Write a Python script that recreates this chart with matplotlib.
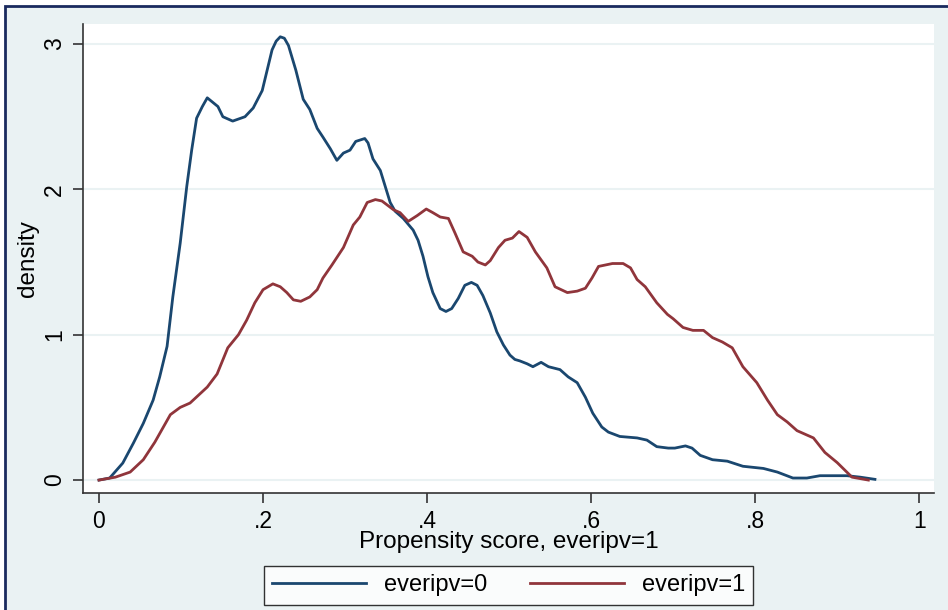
import numpy as np
import matplotlib
matplotlib.use('Agg')
import matplotlib.pyplot as plt
from matplotlib.patches import Rectangle

plt.rcParams['font.family'] = ['Liberation Sans', 'DejaVu Sans']

# everipv=0 density curve
x0 = [0.0, 0.013, 0.029, 0.042, 0.054, 0.066, 0.074, 0.083, 0.090, 0.099, 0.107, 0.113,
      0.119, 0.126, 0.132, 0.145, 0.151, 0.163, 0.178, 0.188, 0.199, 0.211, 0.216, 0.221,
      0.226, 0.231, 0.240, 0.249, 0.257, 0.266, 0.273, 0.282, 0.290, 0.298, 0.306, 0.313,
      0.324, 0.328, 0.334, 0.343, 0.349, 0.355, 0.361, 0.371, 0.383, 0.389, 0.395, 0.401,
      0.407, 0.416, 0.423, 0.430, 0.438, 0.446, 0.454, 0.461, 0.468, 0.477, 0.485, 0.493,
      0.501, 0.507, 0.513, 0.522, 0.529, 0.539, 0.548, 0.562, 0.572, 0.583, 0.593, 0.602,
      0.613, 0.621, 0.635, 0.656, 0.668, 0.680, 0.694, 0.702, 0.715, 0.723, 0.733, 0.748,
      0.766, 0.785, 0.810, 0.827, 0.846, 0.863, 0.879, 0.912, 0.928, 0.946]
y0 = [0.0, 0.014, 0.117, 0.255, 0.39, 0.55, 0.71, 0.92, 1.26, 1.63, 2.02, 2.27,
      2.49, 2.57, 2.63, 2.57, 2.50, 2.47, 2.50, 2.56, 2.68, 2.96, 3.02, 3.05,
      3.04, 2.99, 2.82, 2.62, 2.55, 2.42, 2.36, 2.28, 2.20, 2.25, 2.27, 2.33,
      2.35, 2.32, 2.21, 2.13, 2.02, 1.91, 1.85, 1.80, 1.72, 1.65, 1.54, 1.40,
      1.29, 1.18, 1.16, 1.18, 1.25, 1.34, 1.36, 1.34, 1.27, 1.15, 1.02, 0.93,
      0.86, 0.83, 0.82, 0.80, 0.78, 0.81, 0.78, 0.76, 0.71, 0.67, 0.57, 0.46,
      0.365, 0.33, 0.30, 0.29, 0.275, 0.23, 0.22, 0.22, 0.235, 0.22, 0.17, 0.14,
      0.13, 0.095, 0.08, 0.055, 0.014, 0.014, 0.03, 0.03, 0.02, 0.005]

# everipv=1 density curve
x1 = [0.0, 0.020, 0.038, 0.054, 0.068, 0.087, 0.099, 0.111, 0.132, 0.144, 0.157, 0.170,
      0.180, 0.190, 0.200, 0.212, 0.221, 0.229, 0.237, 0.246, 0.257, 0.266, 0.273, 0.284,
      0.298, 0.310, 0.318, 0.327, 0.337, 0.345, 0.359, 0.367, 0.377, 0.388, 0.399, 0.407,
      0.416, 0.426, 0.434, 0.444, 0.455, 0.462, 0.471, 0.477, 0.487, 0.495, 0.504, 0.512,
      0.522, 0.532, 0.546, 0.556, 0.571, 0.583, 0.593, 0.601, 0.609, 0.626, 0.639, 0.648,
      0.656, 0.666, 0.680, 0.693, 0.700, 0.712, 0.724, 0.737, 0.748, 0.760, 0.772, 0.785,
      0.802, 0.815, 0.827, 0.839, 0.851, 0.871, 0.885, 0.900, 0.918, 0.938]
y1 = [0.0, 0.02, 0.055, 0.14, 0.26, 0.45, 0.50, 0.53, 0.64, 0.73, 0.91, 1.00,
      1.10, 1.22, 1.31, 1.35, 1.33, 1.29, 1.24, 1.23, 1.26, 1.31, 1.39, 1.48,
      1.60, 1.755, 1.81, 1.91, 1.93, 1.92, 1.86, 1.84, 1.78, 1.82, 1.865, 1.84,
      1.81, 1.80, 1.70, 1.57, 1.54, 1.50, 1.48, 1.51, 1.60, 1.65, 1.665, 1.71,
      1.67, 1.57, 1.46, 1.33, 1.29, 1.30, 1.32, 1.39, 1.47, 1.49, 1.49, 1.46,
      1.38, 1.33, 1.22, 1.14, 1.11, 1.05, 1.03, 1.03, 0.98, 0.95, 0.91, 0.78,
      0.67, 0.55, 0.45, 0.40, 0.34, 0.29, 0.19, 0.12, 0.02, 0.0]

xticks = [0, 0.2, 0.4, 0.6, 0.8, 1.0]
xticklabels = ['0', '.2', '.4', '.6', '.8', '1']
yticks = [0, 1, 2, 3]

bg = '#EAF2F3'
fig = plt.figure(figsize=(9.48, 6.1), dpi=100, facecolor='white')
# stata style outer region with navy frame
fig.patches.append(Rectangle((5 / 948, -0.1), 1.2, 1 - 6 / 610 + 0.1,
                             transform=fig.transFigure, facecolor=bg,
                             edgecolor='#1A2A5E', linewidth=2, zorder=-10))

ax = fig.add_axes([83 / 948, 1 - 493 / 610, (934 - 83) / 948, (493 - 24) / 610])
ax.set_facecolor('white')

ax.plot(x0, y0, color='#1A476F', lw=2.0, label='everipv=0')
ax.plot(x1, y1, color='#90353B', lw=2.0, label='everipv=1')

ax.set_xlim(-0.0195, 1.018)
ax.set_ylim(-0.089, 3.138)
ax.set_xticks(xticks)
ax.set_xticklabels(xticklabels)
ax.set_yticks(yticks)
ax.set_yticklabels([str(v) for v in yticks], rotation=90, va='center')

for v in yticks:
    ax.axhline(v, color=bg, lw=1.5, zorder=0)

for s in ['top', 'right']:
    ax.spines[s].set_visible(False)
for s in ['left', 'bottom']:
    ax.spines[s].set_color('#333333')
    ax.spines[s].set_linewidth(1.2)

ax.tick_params(axis='both', direction='out', length=7, width=1.2, color='#333333',
               labelsize=16.5, pad=5)

ax.set_xlabel('Propensity score, everipv=1', fontsize=17.5, labelpad=-1)
ax.set_ylabel('density', fontsize=17.5, labelpad=3)

leg = fig.legend(loc='center', bbox_to_anchor=(508.5 / 948, 1 - 585.5 / 610), ncol=2,
                 fontsize=17, frameon=True, fancybox=False, handlelength=4.0,
                 columnspacing=1.8, borderpad=0.35, handletextpad=0.75)
leg.get_frame().set_edgecolor('black')
leg.get_frame().set_linewidth(1.0)

fig.savefig('out.png', dpi=100, facecolor=fig.get_facecolor())
